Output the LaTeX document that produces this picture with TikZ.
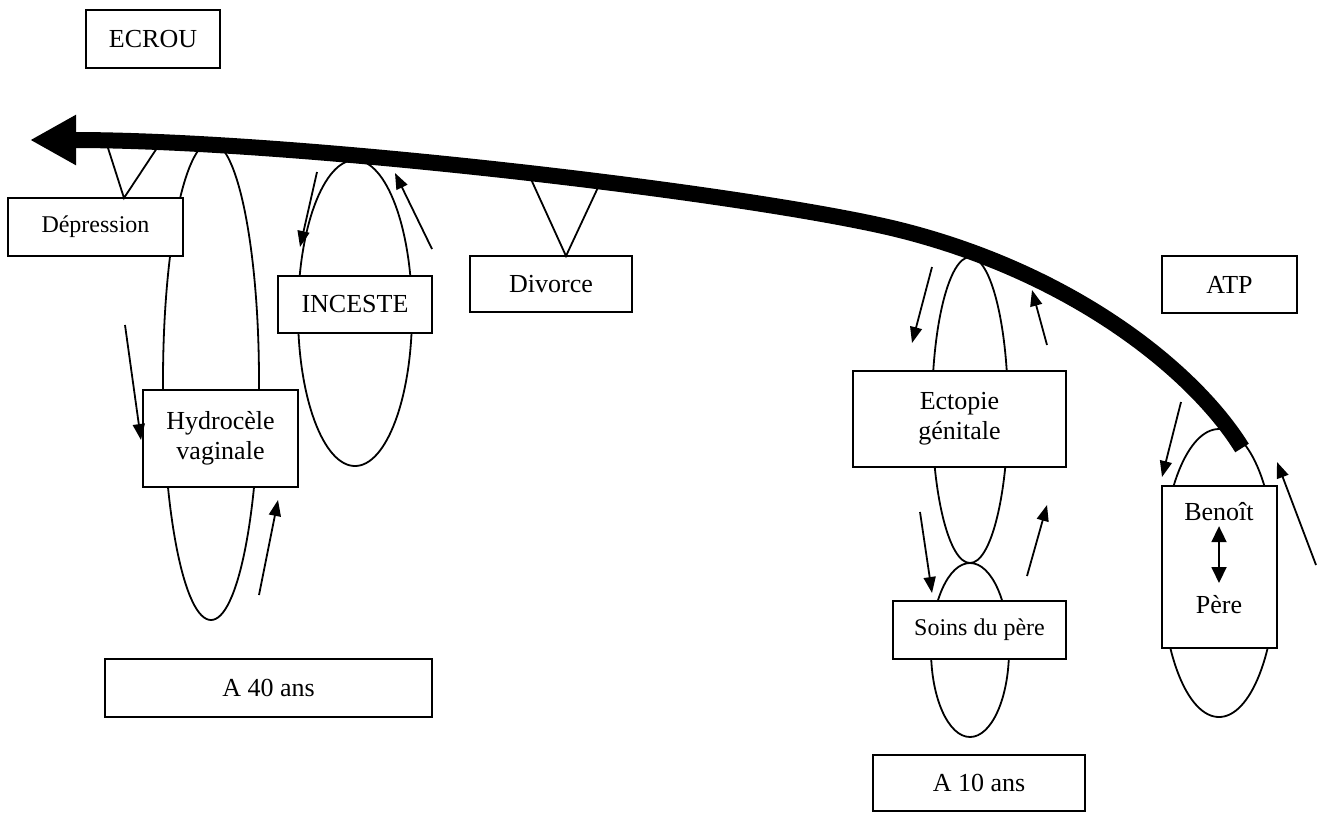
\documentclass[tikz,border=0pt]{standalone}
\usepackage{fontspec}
\setmainfont{Liberation Serif}
\usetikzlibrary{arrows.meta,positioning}

\begin{document}
\begin{tikzpicture}[x=1pt, y=-1pt, line width=1.8pt, line join=miter,
    >={Triangle[length=16pt,width=12pt]},
    boite/.style={draw, fill=white, inner sep=0pt, align=center, font=\fontsize{26}{30}\selectfont},
    petit/.style={font=\fontsize{24}{28}\selectfont}]

                \useasboundingbox (0,0) rectangle (1319,812);

                % Boucles
                \draw (211,381) ellipse [x radius=48, y radius=239];
                \draw (355,313) ellipse [x radius=57, y radius=153];
                \draw (970,410) ellipse [x radius=38, y radius=153];
                \draw (970,650) ellipse [x radius=39, y radius=87];
                \draw (1219,573) ellipse [x radius=57, y radius=144];

                % Boites
                \node[boite, minimum width=134, minimum height=58] (ecrou) at (153,39) {ECROU};
                \node[boite, petit, minimum width=175, minimum height=58] (depression) at (95.5,227) {Dépression};
                \node[boite, minimum width=155, minimum height=97] (hydrocele) at (220.5,438.5) {Hydrocèle\\vaginale};
                \node[boite, minimum width=154, minimum height=57] (inceste) at (355,304.5) {INCESTE};
                \node[boite, minimum width=162, minimum height=56] (divorce) at (551,284) {Divorce};
                \node[boite, minimum width=135, minimum height=57] (atp) at (1229.5,284.5) {ATP};
                \node[boite, minimum width=213, minimum height=96] (ectopie) at (959.5,419) {Ectopie\\génitale};
                \node[boite, petit, minimum width=173, minimum height=58] (soins) at (979.5,630) {Soins du père};
                \node[boite, minimum width=212, minimum height=56] (dixans) at (979,783) {A 10 ans};
                \node[boite, minimum width=327, minimum height=58] (quarante) at (268.5,688) {A 40 ans};
                \node[boite, minimum width=115, minimum height=162] (famille) at (1219.5,567) {};

                % Benoit et son pere
                \node[font=\fontsize{26}{30}\selectfont, anchor=base, inner sep=5pt] (benoit) at (1219,520) {Benoît};
                \node[font=\fontsize{26}{30}\selectfont, anchor=base, inner sep=5pt] (pere) at (1219,613) {Père};
                \draw[<->, >={Triangle[length=16pt,width=15pt]}, shorten >=6pt] (benoit.south) -- (pere.north);

                % Chevrons
                \draw (108,148) -- (124,198) -- (157,148);
                \draw (530,177) -- (566,256) -- (601,181);

                % Fleches des boucles
                \draw[->] (125,325) -- (141,440);
                \draw[->] (259,595) -- (278,500);
                \draw[->] (317,172) -- (300,247);
                \draw[->] (432,249) -- (395,173);
                \draw[->] (932,267) -- (912,343);
                \draw[->] (1047,345) -- (1032,290);
                \draw[->] (920,512) -- (932,593);
                \draw[->] (1027,576) -- (1047,505);
                \draw[->] (1181,402) -- (1162,477);
                \draw[->] (1316,565) -- (1277,462);

                % Grande fleche du temps
                \draw[line width=16pt, -{Triangle[length=46pt,width=47pt]}]
                    (1242,448) .. controls (1195,372) and (1075,274) .. (900,230)
                    .. controls (760,195) and (300,140) .. (30,140);

            \end{tikzpicture}
\end{document}
